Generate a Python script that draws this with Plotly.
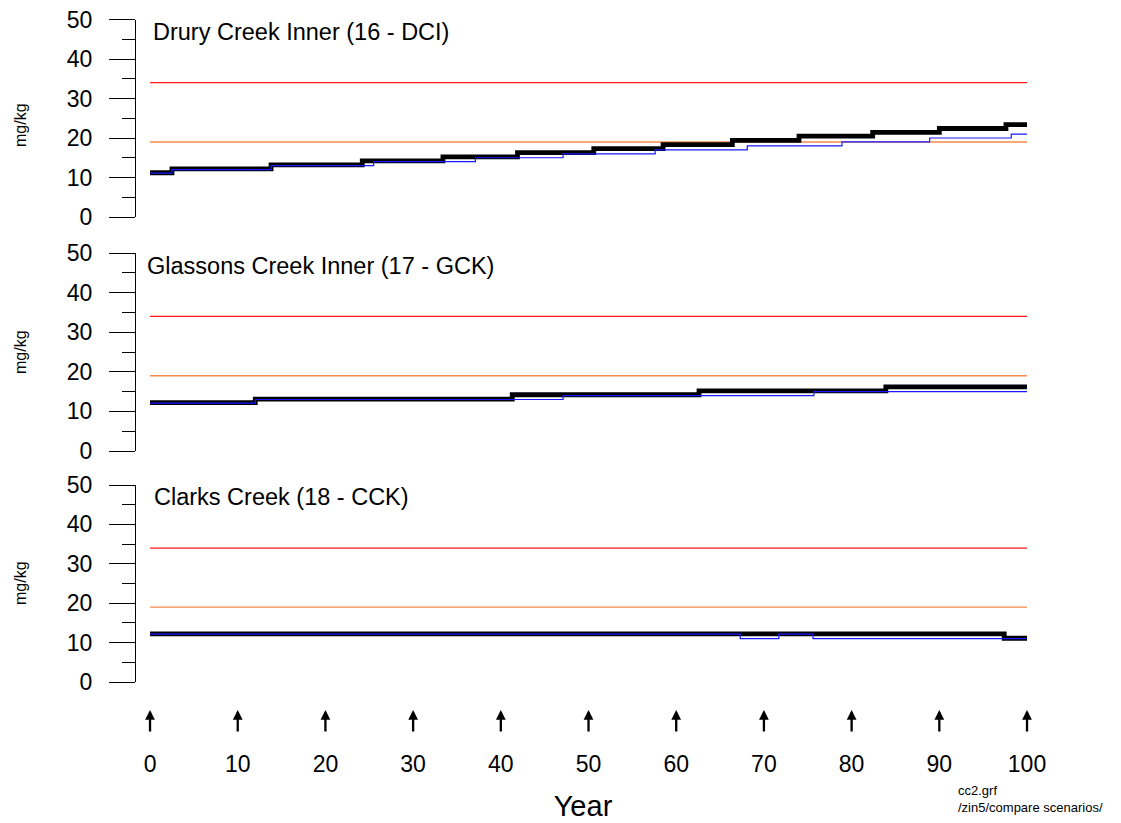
import plotly.graph_objects as go

# the page places the figure 8 px in from the window's top-left corner
OFF = 8
W, H = 1121 - OFF, 823 - OFF
FONT = "Liberation Sans, Arial, sans-serif"

# ---------------- data ----------------
panel_titles = ["Drury Creek Inner (16 - DCI)",
                "Glassons Creek Inner (17 - GCK)",
                "Clarks Creek (18 - CCK)"]

# step-change years and levels (mg/kg)
dci_black_x = [0, 2.5, 13.8, 24.2, 33.4, 41.9, 50.6, 58.5, 66.4, 74.0, 82.4, 90.0, 97.6, 100]
dci_black_y = [11.2, 12.2, 13.2, 14.2, 15.2, 16.3, 17.3, 18.3, 19.4, 20.5, 21.4, 22.4, 23.4, 23.4]
dci_blue_x = [0, 2.5, 13.8, 25.5, 37.1, 47.1, 57.6, 68.1, 78.9, 88.9, 98.2, 100]
dci_blue_y = [11.1, 12.0, 13.0, 14.0, 15.0, 16.0, 17.0, 18.0, 19.0, 20.0, 21.0, 21.0]

gck_black_x = [0, 12.0, 41.3, 62.6, 83.9, 100]
gck_black_y = [12.2, 13.1, 14.2, 15.2, 16.2, 16.2]
gck_blue_x = [0, 12.0, 47.1, 75.7, 100]
gck_blue_y = [12.1, 13.0, 14.0, 15.0, 15.0]

cck_black_x = [0, 97.4, 100]
cck_black_y = [12.2, 11.1, 11.1]
cck_blue_x = [0, 67.3, 71.7, 75.6, 100]
cck_blue_y = [12.15, 11.0, 12.15, 11.0, 11.0]

guideline_x = [0, 100]
red_level = 34
orange_level = 19

year_ticks = [0, 10, 20, 30, 40, 50, 60, 70, 80, 90, 100]
y_ticks = [0, 10, 20, 30, 40, 50]

black_series = [(dci_black_x, dci_black_y), (gck_black_x, gck_black_y), (cck_black_x, cck_black_y)]
blue_series = [(dci_blue_x, dci_blue_y), (gck_blue_x, gck_blue_y), (cck_blue_x, cck_blue_y)]

# ---------------- layout geometry (window pixels) ----------------
x_left_px, x_right_px = 136, 1030
x_range = [-1.6, 100.34]
panels_px = [(19.5, 217), (253, 451), (485, 682)]  # (top=50, bottom=0)
title_pos = [(151, 32), (145, 266), (152, 497)]
unit_label_y = [125, 352, 583]

def px_x(p):
    return (p - OFF) / W

def py(p):
    return 1 - (p - OFF) / H

fig = go.Figure()
for i in range(3):
    xa = "x" if i == 0 else f"x{i+1}"
    ya = "y" if i == 0 else f"y{i+1}"
    fig.add_trace(go.Scatter(x=guideline_x, y=[red_level] * 2, mode="lines",
                             line=dict(color="#ff1a1a", width=1.2), xaxis=xa, yaxis=ya,
                             showlegend=False, hoverinfo="skip"))
    fig.add_trace(go.Scatter(x=guideline_x, y=[orange_level] * 2, mode="lines",
                             line=dict(color="#f5894a", width=1.4), xaxis=xa, yaxis=ya,
                             showlegend=False, hoverinfo="skip"))
    bx, by = black_series[i]
    fig.add_trace(go.Scatter(x=bx, y=by, mode="lines", line_shape="hv",
                             line=dict(color="black", width=4.8), xaxis=xa, yaxis=ya,
                             showlegend=False))
    ux, uy = blue_series[i]
    fig.add_trace(go.Scatter(x=ux, y=uy, mode="lines", line_shape="hv",
                             line=dict(color="#1a1aff", width=1.2), xaxis=xa, yaxis=ya,
                             showlegend=False))

layout = dict(width=W, height=H, margin=dict(l=0, r=0, t=0, b=0, autoexpand=False),
              paper_bgcolor="white", plot_bgcolor="white",
              font=dict(family=FONT, color="black", size=23))

annotations = []
for i in range(3):
    top, bot = panels_px[i]
    xk = "xaxis" if i == 0 else f"xaxis{i+1}"
    yk = "yaxis" if i == 0 else f"yaxis{i+1}"
    xax = dict(domain=[px_x(x_left_px), px_x(x_right_px)], range=x_range,
               showline=False, showgrid=False, zeroline=False, automargin=False,
               ticks="", showticklabels=False, fixedrange=True)
    if i == 2:
        xax.update(showticklabels=True, tickvals=year_ticks,
                   ticktext=[str(v) for v in year_ticks],
                   tickfont=dict(size=23, family=FONT, color="black"),
                   ticklabelstandoff=66, ticklabeloverflow="allow",
                   title=dict(text="Year", font=dict(size=29, family=FONT), standoff=19))
    if i > 0:
        xax["anchor"] = f"y{i+1}"
    layout[xk] = xax
    layout[yk] = dict(domain=[py(bot), py(top)], range=[0, 50],
                      anchor="x" if i == 0 else f"x{i+1}",
                      showline=True, linecolor="black", linewidth=1,
                      showgrid=False, zeroline=False, automargin=False,
                      tickvals=y_ticks, ticks="outside", ticklen=26, tickwidth=1,
                      tickcolor="black", ticklabeloverflow="allow",
                      tickfont=dict(size=23, family=FONT, color="black"),
                      ticklabelstandoff=12,
                      minor=dict(dtick=5, ticks="outside", ticklen=13, tickwidth=1,
                                 tickcolor="black", showgrid=False),
                      fixedrange=True)
    tx, ty = title_pos[i]
    annotations.append(dict(text=panel_titles[i], xref="paper", yref="paper",
                            x=px_x(tx), y=py(ty), xanchor="left", yanchor="middle",
                            showarrow=False, font=dict(size=23.5, family=FONT)))
    annotations.append(dict(text="mg/kg", xref="paper", yref="paper",
                            x=px_x(20), y=py(unit_label_y[i]), xanchor="center",
                            yanchor="middle", textangle=-90, showarrow=False,
                            font=dict(size=16, family=FONT)))

# arrows at each year tick
for v in year_ticks:
    annotations.append(dict(text="", x=v, y=py(710), xref="x3", yref="paper",
                            showarrow=True, ax=0, ay=23, axref="pixel", ayref="pixel",
                            arrowhead=2, arrowsize=0.85, arrowwidth=2.3, arrowcolor="black"))

annotations.append(dict(text="cc2.grf<br>/zin5/compare scenarios/", xref="paper", yref="paper",
                        x=px_x(956), y=py(799), xanchor="left", yanchor="middle", align="left",
                        showarrow=False, font=dict(size=13, family=FONT)))

layout["annotations"] = annotations
fig.update_layout(**layout)
fig.write_html("out.html")
